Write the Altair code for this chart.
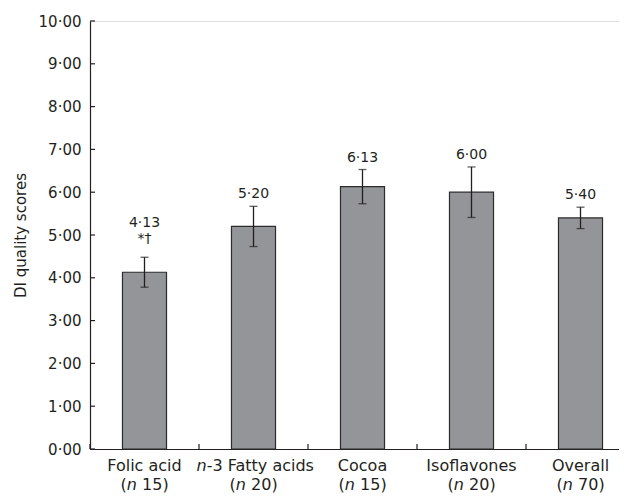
import altair as alt
import pandas as pd

categories = ["Folic acid", "n-3 Fatty acids", "Cocoa", "Isoflavones", "Overall"]
line1_italic = ["", "n", "", "", ""]
line1_rest = ["Folic acid", "-3 Fatty acids", "Cocoa", "Isoflavones", "Overall"]
n_values = [15, 20, 15, 20, 70]
means = [4.13, 5.20, 6.13, 6.00, 5.40]
sems = [0.35, 0.47, 0.40, 0.59, 0.25]
sig_marks = ["*†", "", "", "", ""]
y_ticks = [0, 1, 2, 3, 4, 5, 6, 7, 8, 9, 10]

INK = "#231f20"
FONT = "DejaVu Sans"
H = 428

df = pd.DataFrame({
    "cat": categories,
    "it": line1_italic,
    "rest": line1_rest,
    "n": n_values,
    "mean": means,
    "sem": sems,
    "sig": sig_marks,
})
df["lo"] = df["mean"] - df["sem"]
df["hi"] = df["mean"] + df["sem"]
df["label"] = df["mean"].map(lambda v: f"{v:.2f}".replace(".", "·"))
df["ntail"] = df["n"].map(lambda v: f"{v})")

ticks_df = pd.DataFrame({"v": y_ticks})

xs = alt.Scale(domain=categories, paddingInner=0, paddingOuter=0, range=[0, 545])
ys = alt.Scale(domain=[0, 10], nice=False)

X = alt.X("cat:N", scale=xs, sort=categories,
          axis=alt.Axis(labels=False, ticks=False, title=None, domain=True,
                        domainColor=INK, domainWidth=1.2))
Y_axis = alt.Axis(
    title="DI quality scores", values=y_ticks, ticks=False,
    labelExpr="replace(format(datum.value, '.2f'), '.', '·')",
    labelFont=FONT, labelFontSize=15, labelColor=INK, labelPadding=9,
    titleFont=FONT, titleFontSize=15, titleFontWeight="normal", titleColor=INK,
    titlePadding=10, domainColor=INK, domainWidth=1.2, grid=False,
)

base = alt.Chart(df)
XC = alt.X("cat:N", sort=categories)

bars = base.mark_bar(width={"band": 0.404}, color="#939598", stroke="#2b2b2b",
                     strokeWidth=1.2).encode(
    x=X, y=alt.Y("mean:Q", scale=ys, axis=Y_axis))

err = base.mark_rule(color=INK, strokeWidth=1.3).encode(x=XC, y="lo:Q", y2="hi:Q")
cap_hi = base.mark_tick(color=INK, size=8, thickness=1.3, orient="horizontal").encode(x=XC, y="hi:Q")
cap_lo = base.mark_tick(color=INK, size=8, thickness=1.3, orient="horizontal").encode(x=XC, y="lo:Q")

txt = dict(font=FONT, fontSize=14, color=INK, baseline="alphabetic", align="center")
val_plain = base.transform_filter("datum.sig == ''").mark_text(dy=-8, **txt).encode(
    x=XC, y="hi:Q", text="label:N")
val_sig = base.transform_filter("datum.sig != ''").mark_text(dy=-30, **txt).encode(
    x=XC, y="hi:Q", text="label:N")
sig_txt = base.transform_filter("datum.sig != ''").mark_text(dy=-14, **txt).encode(
    x=XC, y="hi:Q", text="sig:N")

# inward axis ticks
ytick_rules = alt.Chart(ticks_df).mark_rule(color=INK, strokeWidth=1.2).encode(
    y=alt.Y("v:Q", scale=ys), x=alt.value(0), x2=alt.value(5))
xtick_rules = base.mark_rule(color=INK, strokeWidth=1.2).encode(
    x=alt.X("cat:N", sort=categories, bandPosition=0), y=alt.value(H), y2=alt.value(H - 5))

# category labels
lab = dict(font=FONT, fontSize=16, color=INK, baseline="alphabetic")
Y1 = alt.value(H + 22)
Y2 = alt.value(H + 41)
l1_plain = base.transform_filter("datum.it == ''").mark_text(align="center", **lab).encode(
    x=XC, y=Y1, text="rest:N")
l1_it = base.transform_filter("datum.it != ''").mark_text(align="left", dx=-57, fontStyle="italic", **lab).encode(
    x=XC, y=Y1, text="it:N")
l1_rest = base.transform_filter("datum.it != ''").mark_text(align="left", dx=-46.8, **lab).encode(
    x=XC, y=Y1, text="rest:N")
l2_open = base.mark_text(align="left", dx=-24.0, **lab).encode(
    x=XC, y=Y2, text=alt.value("("))
l2_n = base.mark_text(align="left", dx=-17.7, fontStyle="italic", **lab).encode(
    x=XC, y=Y2, text=alt.value("n"))
l2_tail = base.mark_text(align="left", dx=-2.4, **lab).encode(
    x=XC, y=Y2, text="ntail:N")

chart = alt.layer(
    bars, err, cap_hi, cap_lo, val_plain, val_sig, sig_txt,
    ytick_rules, xtick_rules, l1_plain, l1_it, l1_rest, l2_open, l2_n, l2_tail,
).properties(
    width=529, height=H,
    autosize=alt.AutoSizeParams(type="none"),
    padding={"left": 82, "top": 13, "right": 0, "bottom": 44},
).configure_view(stroke=None).configure(background="white")

chart.save("out.html", embed_options={"renderer": "svg", "actions": False})
